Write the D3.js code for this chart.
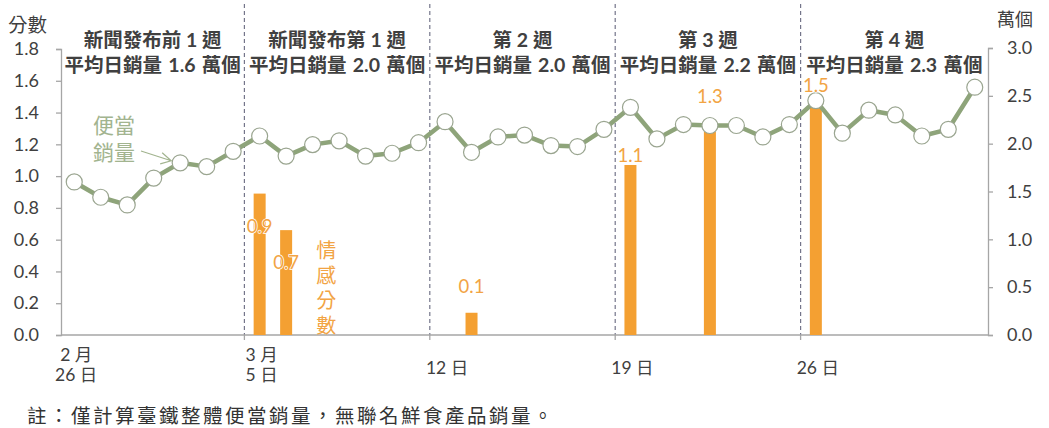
<!DOCTYPE html>
<html>
<head>
<meta charset="utf-8">
<script src="https://cdn.jsdelivr.net/npm/d3@7"></script>
<style>
  html, body { margin: 0; padding: 0; background: #fff; }
  svg { display: block; }
</style>
</head>
<body>
<svg id="chart" width="1049" height="428"></svg>
<script>
// Daily dates, Feb 26 – Apr 1
const dates = [
  "2/26","2/27","2/28","3/1","3/2","3/3","3/4",
  "3/5","3/6","3/7","3/8","3/9","3/10","3/11",
  "3/12","3/13","3/14","3/15","3/16","3/17","3/18",
  "3/19","3/20","3/21","3/22","3/23","3/24","3/25",
  "3/26","3/27","3/28","3/29","3/30","3/31","4/1"
];

// Daily bento sales (萬個, right axis)
const bentoSales = [
  1.60, 1.44, 1.36, 1.64, 1.80, 1.76, 1.92,
  2.08, 1.87, 1.99, 2.03, 1.87, 1.90, 2.01,
  2.23, 1.91, 2.07, 2.09, 1.98, 1.97, 2.15,
  2.38, 2.05, 2.20, 2.19, 2.19, 2.07, 2.20,
  2.45, 2.11, 2.35, 2.30, 2.08, 2.15, 2.59
];

// Sentiment scores (分數, left axis)
const sentimentDates  = ["3/5", "3/6", "3/13", "3/19", "3/22", "3/26"];
const sentimentScores = [0.89, 0.66, 0.14, 1.07, 1.28, 1.48];

// Week headings
const weekStarts  = ["2/26", "3/5", "3/12", "3/19", "3/26"];
const weekTitles  = ["新聞發布前 1 週", "新聞發布第 1 週", "第 2 週", "第 3 週", "第 4 週"];
const weekAverage = ["平均日銷量 1.6 萬個", "平均日銷量 2.0 萬個", "平均日銷量 2.0 萬個", "平均日銷量 2.2 萬個", "平均日銷量 2.3 萬個"];

// Axis ticks and x labels
const leftTicks  = [0, 0.2, 0.4, 0.6, 0.8, 1.0, 1.2, 1.4, 1.6, 1.8];
const rightTicks = [0, 0.5, 1.0, 1.5, 2.0, 2.5, 3.0];
const xLabelDates = ["2/26", "3/5", "3/12", "3/19", "3/26"];
const xLabelLines = [["2 月", "26 日"], ["3 月", "5 日"], ["12 日"], ["19 日"], ["26 日"]];

const NUM_FONT = "Lato, 'Noto Sans CJK TC', sans-serif";
const CJK_FONT = "'Noto Sans CJK TC', sans-serif";
const TEXT = "#404040";
const AXIS = "#a6a6a6";
const GREEN = "#8ea47a";
const ORANGE = "#f4a032";
const ORANGE_TXT = "#f2a444";

const svg = d3.select("#chart");
const plotLeft = 61, plotRight = 988, plotTop = 48, plotBottom = 335;

const x = d3.scaleBand().domain(dates).range([plotLeft, plotRight]);
const cx = d => x(d) + x.bandwidth() / 2;
const yL = d3.scaleLinear().domain([0, 1.8]).range([plotBottom, plotTop + 1]);
const yR = d3.scaleLinear().domain([0, 3.0]).range([plotBottom, plotTop]);

// Week separators (dashed)
const sepX = weekStarts.slice(1).map(d => x(d) - 2);
svg.append("g").selectAll("line").data(sepX).join("line")
  .attr("x1", d => d).attr("x2", d => d)
  .attr("y1", 4).attr("y2", plotBottom)
  .attr("stroke", "#74758a").attr("stroke-width", 1.2)
  .attr("stroke-dasharray", "4,3");

// Week headings
const colEdges = [plotLeft, ...sepX, plotRight];
const heads = svg.append("g")
  .attr("font-family", NUM_FONT).attr("font-weight", 700)
  .attr("font-size", 19.5).attr("fill", TEXT).attr("text-anchor", "middle");
weekTitles.forEach((t, i) => {
  const mx = (colEdges[i] + colEdges[i + 1]) / 2;
  heads.append("text").attr("x", mx).attr("y", 47).text(t);
  heads.append("text").attr("x", mx).attr("y", 72).attr("word-spacing", 1.5).text(weekAverage[i]);
});

// Left axis
const gL = svg.append("g").attr("transform", `translate(${plotLeft},0)`)
  .call(d3.axisLeft(yL).tickValues(leftTicks).tickFormat(d3.format(".1f")).tickSize(5).tickPadding(17));
gL.select(".domain").attr("stroke", AXIS).attr("stroke-width", 1.3);
gL.selectAll(".tick line").attr("stroke", AXIS).attr("stroke-width", 1.3);
gL.selectAll(".tick text").attr("font-family", NUM_FONT).attr("font-size", 18).attr("fill", TEXT);

// Right axis
const gR = svg.append("g").attr("transform", `translate(${plotRight},0)`)
  .call(d3.axisRight(yR).tickValues(rightTicks).tickFormat(d3.format(".1f")).tickSize(5).tickPadding(14));
gR.select(".domain").attr("stroke", AXIS).attr("stroke-width", 1.3);
gR.selectAll(".tick line").attr("stroke", AXIS).attr("stroke-width", 1.3);
gR.selectAll(".tick text").attr("font-family", NUM_FONT).attr("font-size", 18).attr("fill", TEXT);

// X axis baseline with week ticks
svg.append("line").attr("x1", plotLeft).attr("x2", plotRight).attr("y1", plotBottom).attr("y2", plotBottom)
  .attr("stroke", AXIS).attr("stroke-width", 1.5);
svg.append("g").selectAll("line").data(sepX).join("line")
  .attr("x1", d => d).attr("x2", d => d).attr("y1", plotBottom).attr("y2", plotBottom + 5)
  .attr("stroke", AXIS).attr("stroke-width", 1.3);

// Axis titles
svg.append("text").attr("x", 8).attr("y", 32).attr("font-family", CJK_FONT)
  .attr("font-size", 19.5).attr("fill", TEXT).text("分數");
svg.append("text").attr("x", 997).attr("y", 26).attr("font-family", CJK_FONT)
  .attr("font-size", 18).attr("fill", TEXT).text("萬個");

// X labels
const xl = svg.append("g").attr("font-family", NUM_FONT).attr("font-size", 17.5)
  .attr("fill", TEXT).attr("text-anchor", "middle");
xLabelDates.forEach((d, i) => {
  const lines = xLabelLines[i];
  const ys = lines.length === 2 ? [361, 381] : [374];
  lines.forEach((t, k) => xl.append("text").attr("x", cx(d) + 2).attr("y", ys[k]).text(t));
});

// Sentiment bars
const barW = 12;
svg.append("g").selectAll("rect").data(sentimentDates).join("rect")
  .attr("x", d => cx(d) - barW / 2)
  .attr("width", barW)
  .attr("y", (d, i) => yL(sentimentScores[i]))
  .attr("height", (d, i) => plotBottom - yL(sentimentScores[i]))
  .attr("fill", ORANGE);

// Bento sales line and markers
const pts = dates.map((d, i) => [cx(d), yR(bentoSales[i])]);
svg.append("path").attr("d", d3.line()(pts))
  .attr("fill", "none").attr("stroke", GREEN).attr("stroke-width", 4.5)
  .attr("stroke-linejoin", "round");
svg.append("g").selectAll("circle").data(pts).join("circle")
  .attr("cx", d => d[0]).attr("cy", d => d[1]).attr("r", 8)
  .attr("fill", "#fff").attr("stroke", "#9aa590").attr("stroke-width", 1.2);

// Bar value labels
const labelDy = [39, 39, -20, -3, -29, -8];
svg.append("g").attr("font-family", NUM_FONT).attr("font-size", 18.5)
  .attr("text-anchor", "middle").attr("fill", ORANGE_TXT)
  .selectAll("text").data(sentimentDates).join("text")
  .attr("x", d => cx(d))
  .attr("y", (d, i) => yL(sentimentScores[i]) + labelDy[i])
  .attr("stroke", "#fff").attr("stroke-width", 1.5).attr("paint-order", "stroke")
  .text((d, i) => d3.format(".1f")(sentimentScores[i]));

// Series annotation for the sales line (two-line label + arrow)
const ann = svg.append("text").attr("font-family", CJK_FONT).attr("font-size", 21).attr("fill", "#a2b48f");
ann.append("tspan").attr("x", 93).attr("y", 133).text("便當");
ann.append("tspan").attr("x", 93).attr("y", 160).text("銷量");
const tip = [cx("3/2") - 9, yR(bentoSales[4]) - 2];
svg.append("path")
  .attr("d", `M141,151L${tip[0]},${tip[1]}M${tip[0] - 9},${tip[1] - 8}L${tip[0]},${tip[1]}L${tip[0] - 11},${tip[1] + 3}`)
  .attr("fill", "none").attr("stroke", "#a2b48f").attr("stroke-width", 1.2);

// Vertical label for the sentiment bars
svg.append("text")
  .attr("x", cx("3/6") + 40).attr("y", 240)
  .attr("font-family", CJK_FONT).attr("font-size", 20)
  .attr("fill", ORANGE_TXT)
  .style("writing-mode", "vertical-rl")
  .attr("letter-spacing", 5)
  .text("情感分數");

// Footnote
svg.append("text").attr("x", 27).attr("y", 423).attr("font-family", CJK_FONT)
  .attr("font-size", 19.5).attr("letter-spacing", 2.5).attr("fill", "#333")
  .text("註：僅計算臺鐵整體便當銷量，無聯名鮮食產品銷量。");
</script>
</body>
</html>
